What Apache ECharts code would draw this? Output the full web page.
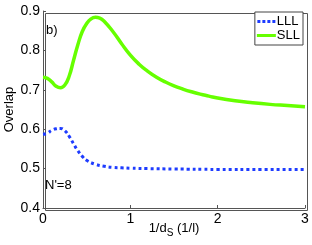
<!DOCTYPE html>
<html><head><meta charset="utf-8">
<script src="https://cdn.jsdelivr.net/npm/echarts@6/dist/echarts.min.js"></script>
<style>html,body{margin:0;padding:0;background:#fff}#c{width:312px;height:245px}</style>
</head><body><div id="c"></div>
<script>
var xTicks = [0, 1, 2, 3];
var yTicks = [0.4, 0.5, 0.6, 0.7, 0.8, 0.9];
var sllX = [0, 0.05, 0.1, 0.15, 0.2, 0.25, 0.3, 0.35, 0.4, 0.45, 0.5, 0.55, 0.6, 0.65, 0.7, 0.8, 0.9, 1.0, 1.1, 1.2, 1.3, 1.4, 1.5, 1.6, 1.7, 1.8, 1.9, 2.0, 2.2, 2.4, 2.6, 2.8, 3.0];
var sllY = [0.732, 0.729, 0.72, 0.709, 0.705, 0.712, 0.735, 0.775, 0.815, 0.848, 0.868, 0.88, 0.884, 0.882, 0.874, 0.848, 0.817, 0.788, 0.765, 0.747, 0.732, 0.72, 0.71, 0.702, 0.695, 0.689, 0.684, 0.679, 0.672, 0.667, 0.663, 0.66, 0.657];
var lllX = [0, 0.05, 0.1, 0.15, 0.2, 0.25, 0.3, 0.35, 0.4, 0.45, 0.5, 0.6, 0.7, 0.8, 0.9, 1.0, 1.2, 1.5, 2.0, 2.5, 3.0];
var lllY = [0.587, 0.59, 0.597, 0.601, 0.602, 0.596, 0.582, 0.563, 0.545, 0.531, 0.521, 0.511, 0.506, 0.503, 0.502, 0.501, 0.5, 0.499, 0.498, 0.498, 0.498];
function pairs(xs, ys){ return xs.map(function(x,i){return [x, ys[i]];}); }
var chart = echarts.init(document.getElementById('c'), null, {renderer:'canvas'});
var font = 'Liberation Sans';
chart.setOption({
  animation: false,
  grid: {left: 43, right: 7, top: 11, bottom: 37, containLabel: false, outerBoundsMode: 'none'},
  xAxis: {
    type: 'value', min: 0, max: 3, interval: 1,
    name: '1/d{sub|S} (1/l)', nameLocation: 'middle', nameGap: 11, nameMoveOverlap: false,
    nameTextStyle: {color:'#000', fontFamily: font, fontSize: 13, rich: {sub: {fontSize: 10, verticalAlign: 'bottom', padding:[9,0,0,0], fontFamily: font, color:'#000'}}},
    axisLine: {show: true, lineStyle: {color: '#555', width: 1}},
    axisTick: {show: true, inside: true, length: 3, lineStyle: {color:'#555'}},
    axisLabel: {color: '#000', fontFamily: font, fontSize: 14, margin: 4},
    splitLine: {show: false}
  },
  yAxis: {
    type: 'value', min: 0.4, max: 0.9, interval: 0.1,
    name: 'Overlap', nameLocation: 'middle', nameGap: 27, nameMoveOverlap: false,
    nameTextStyle: {color:'#000', fontFamily: font, fontSize: 13},
    axisLine: {show: true, lineStyle: {color: '#555', width: 1}},
    axisTick: {show: true, inside: true, length: 3, lineStyle: {color:'#555'}},
    axisLabel: {color: '#000', fontFamily: font, fontSize: 14, margin: 3, formatter: function(v){return v.toFixed(1);}},
    splitLine: {show: false}
  },
  legend: {
    right: 9, top: 12, orient: 'vertical',
    backgroundColor: '#fff', borderColor: '#444', borderWidth: 1, borderRadius: 0,
    padding: [3, 3, 3, 2], itemGap: 1, itemWidth: 19, itemHeight: 3,
    textStyle: {color:'#000', fontFamily: font, fontSize: 13, padding:[0,0,0,-4]},
    data: [
      {name:'LLL', icon:'path://M0,0h3v3h-3zM5,0h3v3h-3zM10,0h3v3h-3zM15,0h3v3h-3z'},
      {name:'SLL', icon:'rect'}
    ]
  },
  graphic: [
    {type:'rect', left: 43, top: 11, shape:{width: 262, height: 197}, style:{fill:'none', stroke:'#555', lineWidth:1}, silent:true},
    {type:'text', left: 46, top: 24, style:{text:'b)', fontFamily: font, fontSize: 13, fill:'#000'}},
    {type:'text', left: 45, top: 179, style:{text:"N'=8", fontFamily: font, fontSize: 13, fill:'#000'}}
  ],
  series: [
    {name:'LLL', type:'line', data: pairs(lllX, lllY), smooth: true, symbol:'none', showSymbol:false,
     lineStyle:{color:'#1e3cff', width: 3, type:[3,3], cap:'butt'}, itemStyle:{color:'#1e3cff'}},
    {name:'SLL', type:'line', data: pairs(sllX, sllY), smooth: true, symbol:'none', showSymbol:false,
     lineStyle:{color:'#66ff00', width: 3.5}, itemStyle:{color:'#66ff00'}}
  ]
});
</script></body></html>
